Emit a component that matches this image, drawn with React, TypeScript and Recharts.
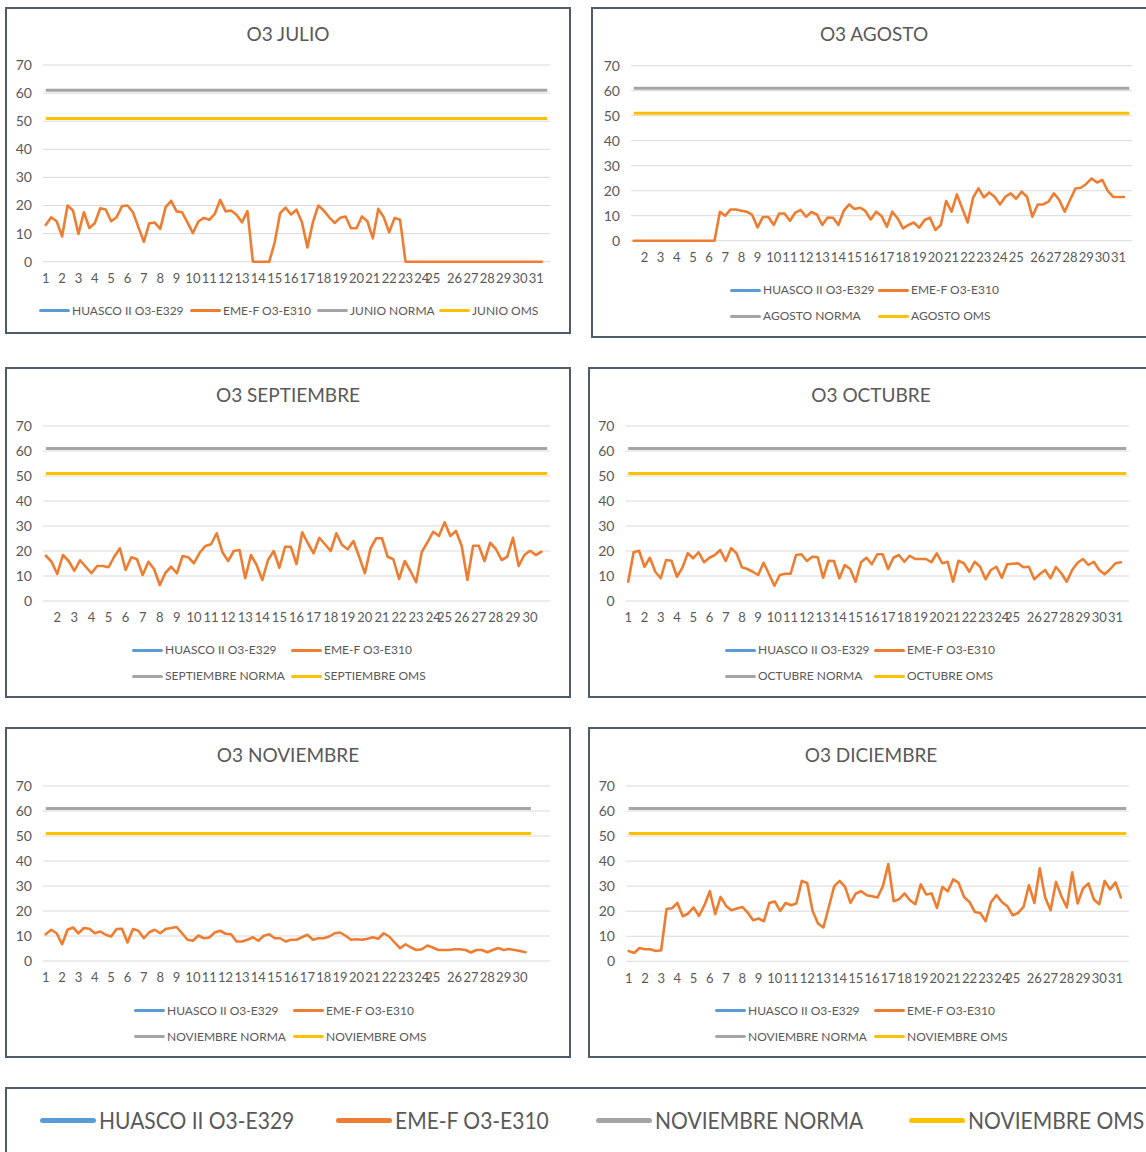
import React from "react";
import { LineChart, Line, XAxis, YAxis, CartesianGrid } from "recharts";

// ---- data ----
const NORMA_VALUE = 61;
const OMS_VALUE = 51;
const Y_TICKS = [0, 10, 20, 30, 40, 50, 60, 70];

const HUASCO_NAME = "HUASCO II O3-E329";
const EME_NAME = "EME-F O3-E310";

const JULIO_EME = [
  13.1, 15.8, 14.4, 9.0, 20.0, 18.2, 9.9, 17.6, 12.0, 13.7,
  19.0, 18.6, 14.4, 15.8, 19.8, 20.0, 17.6, 12.3, 7.1, 13.7,
  13.9, 11.7, 19.4, 21.7, 17.9, 17.6, 14.0, 10.2, 14.3, 15.6,
  14.9, 17.0, 22.0, 17.9, 18.2, 16.7, 14.0, 18.0, 0, 0,
  0, 0, 6.9, 17.3, 19.2, 16.8, 18.5, 14.0, 5.1, 14.0,
  20.0, 18.2, 15.8, 13.8, 15.6, 16.1, 11.9, 11.9, 16.1, 14.4,
  8.3, 18.8, 15.8, 10.5, 15.6, 14.9, 0, 0, 0, 0,
  0, 0, 0, 0, 0, 0, 0, 0, 0, 0,
  0, 0, 0, 0, 0, 0, 0, 0, 0, 0,
  0, 0,
];

const AGOSTO_EME = [
  0, 0, 0, 0, 0, 0, 0, 0, 0, 0,
  0, 0, 0, 0, 0, 0, 11.6, 10.0, 12.5, 12.5,
  12.0, 11.6, 10.3, 5.3, 9.5, 9.5, 6.3, 10.9, 10.9, 8.0,
  11.2, 12.3, 9.6, 11.5, 10.5, 6.3, 9.3, 9.2, 6.3, 12.0,
  14.5, 12.7, 13.2, 11.9, 8.5, 11.6, 9.9, 5.6, 11.6, 8.9,
  4.9, 6.3, 7.3, 5.2, 8.3, 9.2, 4.3, 6.3, 15.9, 11.6,
  18.5, 12.9, 7.3, 17.2, 20.9, 17.3, 19.3, 17.6, 14.5, 17.6,
  18.9, 16.8, 19.6, 17.6, 9.6, 14.5, 14.5, 15.6, 18.9, 16.3,
  11.6, 16.3, 20.9, 21.2, 22.7, 24.9, 23.3, 24.3, 19.9, 17.5,
  17.5, 17.5,
];

const SEPTIEMBRE_EME = [
  18.1, 15.7, 10.8, 18.4, 16.0, 12.1, 16.3, 13.7, 11.1, 14.0,
  14.0, 13.5, 17.7, 21.1, 12.4, 17.5, 16.7, 10.4, 15.7, 12.8,
  6.4, 11.3, 13.7, 11.1, 18.0, 17.5, 15.1, 19.3, 22.0, 22.7,
  27.1, 19.5, 16.0, 20.0, 20.4, 9.1, 18.4, 14.4, 8.4, 16.4,
  20.0, 13.3, 21.7, 21.7, 14.8, 27.5, 23.1, 19.1, 25.3, 22.7,
  20.0, 27.1, 22.4, 20.7, 24.0, 17.7, 11.1, 21.1, 25.1, 25.1,
  17.7, 16.7, 8.8, 16.0, 12.0, 7.5, 19.7, 23.5, 27.7, 26.0,
  31.5, 26.0, 28.0, 22.0, 8.4, 22.1, 22.1, 16.0, 23.3, 20.8,
  16.4, 17.7, 25.3, 14.0, 18.4, 20.1, 18.4, 19.7,
];

const OCTUBRE_EME = [
  7.7, 19.5, 20.1, 13.7, 17.3, 11.7, 9.1, 16.4, 16.1, 9.7,
  13.3, 19.1, 17.1, 19.5, 15.5, 17.3, 18.4, 20.4, 16.0, 21.1,
  19.1, 13.5, 12.8, 11.7, 10.4, 15.3, 10.8, 6.1, 10.4, 10.9,
  10.9, 18.4, 18.7, 16.0, 17.7, 17.5, 9.3, 16.1, 16.0, 9.1,
  14.4, 12.8, 7.7, 15.5, 17.3, 14.7, 18.7, 18.7, 12.8, 17.3,
  18.4, 15.7, 18.1, 16.8, 16.8, 16.8, 15.5, 19.1, 15.1, 15.7,
  7.7, 16.1, 15.1, 11.7, 15.7, 13.7, 8.7, 12.4, 13.7, 9.3,
  14.7, 14.9, 15.1, 13.5, 13.7, 8.7, 10.7, 12.4, 9.1, 13.6,
  11.1, 7.7, 12.4, 15.3, 16.8, 14.4, 15.7, 12.4, 10.7, 12.7,
  15.1, 15.5,
];

const NOVIEMBRE_EME = [
  10.7, 12.5, 11.1, 6.7, 12.5, 13.4, 11.1, 13.2, 12.9, 11.1,
  11.8, 10.5, 9.8, 12.8, 12.9, 7.4, 12.8, 12.1, 9.1, 11.5,
  12.5, 11.1, 12.8, 13.2, 13.6, 11.1, 8.5, 8.1, 10.2, 9.1,
  9.4, 11.4, 12.1, 10.9, 10.7, 7.8, 7.8, 8.5, 9.5, 8.1,
  10.1, 10.7, 9.1, 9.1, 7.8, 8.5, 8.5, 9.5, 10.5, 8.5,
  9.1, 9.1, 9.8, 11.1, 11.4, 10.1, 8.5, 8.7, 8.5, 8.9,
  9.5, 8.9, 11.1, 9.8, 7.4, 5.1, 6.7, 5.4, 4.4, 4.7,
  6.2, 5.4, 4.4, 4.4, 4.4, 4.7, 4.7, 4.4, 3.4, 4.4,
  4.4, 3.5, 4.4, 5.2, 4.4, 4.8, 4.4, 4.0, 3.5,
];

const DICIEMBRE_EME = [
  4.1, 3.3, 5.3, 4.8, 4.8, 4.1, 4.4, 20.9, 21.2, 23.3,
  18.0, 19.1, 21.5, 18.1, 22.4, 28.0, 18.8, 25.7, 22.1, 20.4,
  21.1, 21.7, 19.5, 16.4, 17.1, 16.0, 23.3, 23.9, 20.1, 23.3,
  22.4, 23.1, 32.1, 31.3, 20.1, 15.1, 13.5, 21.7, 30.0, 32.1,
  29.7, 23.3, 27.1, 28.0, 26.4, 26.0, 25.5, 30.0, 38.8, 24.0,
  24.8, 27.1, 24.4, 22.8, 30.7, 26.7, 27.1, 21.3, 29.7, 28.0,
  32.7, 31.3, 25.7, 23.7, 19.7, 19.3, 16.0, 23.7, 26.4, 23.7,
  22.0, 18.4, 19.3, 21.7, 30.4, 23.3, 37.1, 25.5, 20.4, 31.7,
  26.0, 21.5, 35.5, 23.1, 29.1, 31.1, 24.7, 22.8, 32.1, 28.7,
  31.5, 25.5,
];

// category index where each day label sits (day 1, 2, 3 ...)
const DAYS_31 = [
  0, 3, 6, 9, 12, 15, 18, 21, 24, 27, 30, 33, 36, 39, 42, 45,
  48, 51, 54, 57, 60, 63, 66, 69, 71, 75, 78, 81, 84, 87, 90,
];
const DAYS_30 = DAYS_31.slice(0, 30);
const DAYS_AGOSTO = [
  0, 2, 5, 8, 11, 14, 17, 20, 23, 26, 29, 32, 35, 38, 41, 44,
  47, 50, 53, 56, 59, 62, 65, 68, 71, 75, 78, 81, 84, 87, 90,
];
const DAYS_SEPTIEMBRE = [
  0, 2, 5, 8, 11, 14, 17, 20, 23, 26, 29, 32, 35, 38, 41, 44,
  47, 50, 53, 56, 59, 62, 65, 68, 70, 73, 76, 79, 82, 85,
];

// ---- look ----
const FONT = "Lato, 'Open Sans', sans-serif";
const TEXT = "#595959";
const BORDER = "#4f5b6b";
const GRID = "#d9d9d9";
const C_HUASCO = "#5b9bd5";
const C_EME = "#ed7d31";
const C_NORMA = "#a5a5a5";
const C_OMS = "#ffc000";

type Box = { x: number; y: number; w: number; h: number };
type PanelCfg = {
  title: string;
  limitName: string;
  eme: number[];
  categories: number;
  limitLength: number;
  days: number[];
  hideDayOne: boolean;
  box: Box;
  plot: { x1: number; x2: number; yTop: number; yBot: number };
  titleY: number;
  legendPos: [number, number][];
};

const row1 = (y: number, xs: number[]): [number, number][] => xs.map((x) => [x, y]);
const grid2 = (cols: number[], rows: number[]): [number, number][] => [
  [cols[0], rows[0]],
  [cols[1], rows[0]],
  [cols[0], rows[1]],
  [cols[1], rows[1]],
];

const PANELS: PanelCfg[] = [
  {
    title: "O3 JULIO",
    limitName: "JUNIO",
    eme: JULIO_EME,
    categories: 93,
    limitLength: 93,
    days: DAYS_31,
    hideDayOne: false,
    box: { x: 5, y: 7, w: 566, h: 327 },
    plot: { x1: 43, x2: 550, yTop: 65, yBot: 261.7 },
    titleY: 33.5,
    legendPos: row1(310.7, [39, 190, 317, 439]),
  },
  {
    title: "O3 AGOSTO",
    limitName: "AGOSTO",
    eme: AGOSTO_EME,
    categories: 93,
    limitLength: 93,
    days: DAYS_AGOSTO,
    hideDayOne: true,
    box: { x: 591, y: 7, w: 566, h: 331 },
    plot: { x1: 631, x2: 1132, yTop: 65.7, yBot: 240.7 },
    titleY: 33.5,
    legendPos: grid2([730, 878], [290, 316]),
  },
  {
    title: "O3 SEPTIEMBRE",
    limitName: "SEPTIEMBRE",
    eme: SEPTIEMBRE_EME,
    categories: 89,
    limitLength: 89,
    days: DAYS_SEPTIEMBRE,
    hideDayOne: true,
    box: { x: 5, y: 367, w: 566, h: 331 },
    plot: { x1: 43, x2: 550, yTop: 426, yBot: 601 },
    titleY: 395,
    legendPos: grid2([132, 291], [650, 676]),
  },
  {
    title: "O3 OCTUBRE",
    limitName: "OCTUBRE",
    eme: OCTUBRE_EME,
    categories: 93,
    limitLength: 93,
    days: DAYS_31,
    hideDayOne: false,
    box: { x: 588, y: 367, w: 566, h: 331 },
    plot: { x1: 625.5, x2: 1129, yTop: 426, yBot: 601 },
    titleY: 395,
    legendPos: grid2([725, 874], [650, 676]),
  },
  {
    title: "O3 NOVIEMBRE",
    limitName: "NOVIEMBRE",
    eme: NOVIEMBRE_EME,
    categories: 93,
    limitLength: 90,
    days: DAYS_30,
    hideDayOne: false,
    box: { x: 5, y: 727, w: 566, h: 331 },
    plot: { x1: 43, x2: 550, yTop: 786, yBot: 961 },
    titleY: 755,
    legendPos: grid2([134, 293], [1010.7, 1036.7]),
  },
  {
    title: "O3 DICIEMBRE",
    limitName: "NOVIEMBRE",
    eme: DICIEMBRE_EME,
    categories: 93,
    limitLength: 93,
    days: DAYS_31,
    hideDayOne: false,
    box: { x: 588, y: 727, w: 566, h: 331 },
    plot: { x1: 626, x2: 1129, yTop: 786, yBot: 961.3 },
    titleY: 755,
    legendPos: grid2([715, 874], [1010.7, 1036.7]),
  },
];

function buildRows(p: PanelCfg) {
  const rows = [];
  for (let i = 0; i < p.categories; i++) {
    rows.push({
      i,
      huasco: null,
      eme: i < p.eme.length ? p.eme[i] : null,
      norma: i < p.limitLength ? NORMA_VALUE : null,
      oms: i < p.limitLength ? OMS_VALUE : null,
    });
  }
  return rows;
}

function LegendEntry({ x, y, color, name, size = 12, mark = 31, thick = 3 }: any) {
  return (
    <>
      <div
        style={{
          position: "absolute",
          left: x,
          top: y - thick / 2,
          width: mark,
          height: thick,
          borderRadius: thick / 2,
          background: color,
        }}
      />
      <div
        style={{
          position: "absolute",
          left: x + mark + 2,
          top: y - 10,
          height: 20,
          lineHeight: "20px",
          fontSize: size,
          color: TEXT,
          whiteSpace: "nowrap",
        }}
      >
        {name}
      </div>
    </>
  );
}

const Y_W = 30;
const X_H = 20;

function ChartPanel({ p }: { p: PanelCfg }) {
  const rows = buildRows(p);
  const margin = {
    top: p.plot.yTop - p.box.y,
    right: p.box.x + p.box.w - p.plot.x2,
    left: p.plot.x1 - p.box.x - Y_W,
    bottom: p.box.y + p.box.h - p.plot.yBot - X_H,
  };
  const labelOf = new Map<number, string>(
    p.days.map((s, k) => [s, p.hideDayOne && k === 0 ? "" : String(k + 1)])
  );
  const xTick = { fill: TEXT, fontSize: 13, fontFamily: FONT };
  const yTick = { fill: TEXT, fontSize: 14, fontFamily: FONT };
  const legendItems = [
    { name: HUASCO_NAME, color: C_HUASCO },
    { name: EME_NAME, color: C_EME },
    { name: `${p.limitName} NORMA`, color: C_NORMA },
    { name: `${p.limitName} OMS`, color: C_OMS },
  ];

  return (
    <>
      <div
        style={{
          position: "absolute",
          left: p.box.x,
          top: p.box.y,
          width: p.box.w,
          height: p.box.h,
          border: `2px solid ${BORDER}`,
          boxSizing: "border-box",
          background: "#fff",
        }}
      />
      <div style={{ position: "absolute", left: p.box.x, top: p.box.y }}>
        <LineChart width={p.box.w} height={p.box.h} data={rows} margin={margin}>
          <CartesianGrid vertical={false} stroke={GRID} />
          <XAxis
            dataKey="i"
            type="number"
            domain={[-0.5, p.categories - 0.5]}
            ticks={p.days}
            interval={0}
            tickFormatter={(v) => labelOf.get(v) ?? ""}
            axisLine={false}
            tickLine={false}
            tickSize={0}
            tickMargin={12}
            height={X_H}
            tick={xTick}
          />
          <YAxis
            domain={[0, 70]}
            ticks={Y_TICKS}
            interval={0}
            axisLine={false}
            tickLine={false}
            tickSize={0}
            tickMargin={11}
            width={Y_W}
            tick={yTick}
          />
          <Line dataKey="huasco" name={HUASCO_NAME} stroke={C_HUASCO} strokeWidth={2.5} dot={false} isAnimationActive={false} />
          <Line
            dataKey="eme"
            name={EME_NAME}
            stroke={C_EME}
            strokeWidth={2.6}
            strokeLinejoin="round"
            strokeLinecap="round"
            dot={false}
            isAnimationActive={false}
          />
          <Line dataKey="norma" stroke={C_NORMA} strokeWidth={3} dot={false} isAnimationActive={false} />
          <Line dataKey="oms" stroke={C_OMS} strokeWidth={3} dot={false} isAnimationActive={false} />
        </LineChart>
      </div>
      <div
        style={{
          position: "absolute",
          left: p.box.x,
          width: p.box.w,
          top: p.titleY - 12,
          height: 24,
          lineHeight: "24px",
          textAlign: "center",
          fontSize: 19,
          color: TEXT,
        }}
      >
        {p.title}
      </div>
      {legendItems.map((it, k) => (
        <LegendEntry key={k} x={p.legendPos[k][0]} y={p.legendPos[k][1]} color={it.color} name={it.name} />
      ))}
    </>
  );
}

function BottomLegend() {
  const items = [
    { name: HUASCO_NAME, color: C_HUASCO, x: 40 },
    { name: EME_NAME, color: C_EME, x: 336 },
    { name: "NOVIEMBRE NORMA", color: C_NORMA, x: 596 },
    { name: "NOVIEMBRE OMS", color: C_OMS, x: 909 },
  ];
  return (
    <>
      <div
        style={{
          position: "absolute",
          left: 5,
          top: 1087,
          width: 1200,
          height: 120,
          border: `2px solid ${BORDER}`,
          boxSizing: "border-box",
          background: "#fff",
        }}
      />
      {items.map((it, k) => (
        <React.Fragment key={k}>
          <div
            style={{
              position: "absolute",
              left: it.x,
              top: 1117.5,
              width: 56,
              height: 5,
              borderRadius: 2.5,
              background: it.color,
            }}
          />
          <div
            style={{
              position: "absolute",
              left: it.x + 59,
              top: 1105,
              height: 30,
              lineHeight: "30px",
              fontSize: 24,
              color: TEXT,
              whiteSpace: "nowrap",
              transform: "scaleX(0.875)",
              transformOrigin: "left center",
            }}
          >
            {it.name}
          </div>
        </React.Fragment>
      ))}
    </>
  );
}

export default function App() {
  return (
    <div
      style={{
        position: "absolute",
        left: 0,
        top: 0,
        width: 1146,
        height: 1152,
        overflow: "hidden",
        background: "#fff",
        fontFamily: FONT,
      }}
    >
      {PANELS.map((p) => (
        <ChartPanel key={p.title} p={p} />
      ))}
      <BottomLegend />
    </div>
  );
}
